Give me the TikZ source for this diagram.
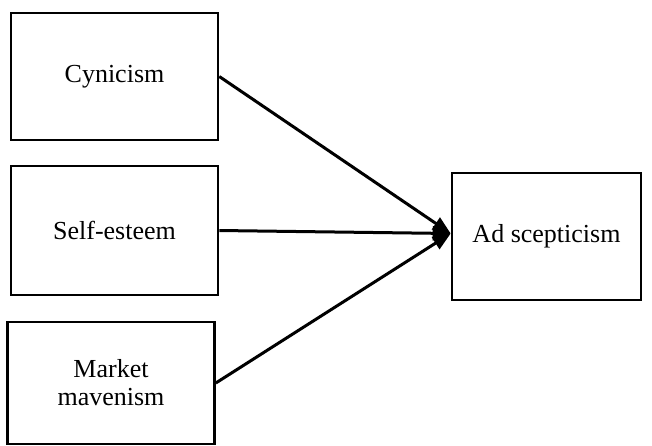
\documentclass[tikz,border=0pt]{standalone}
\usepackage{fontspec}
\setmainfont{Liberation Serif}
\usetikzlibrary{arrows.meta, positioning, calc}

\begin{document}
\begin{tikzpicture}[x=0.5pt, y=-0.5pt,
        box/.style={rectangle, draw=black, fill=white, line width=1.3pt, align=center, font=\fontsize{13}{14}\selectfont, minimum width=103.5pt, minimum height=63.5pt, inner sep=0pt},
        arr/.style={-{Triangle[length=9pt, width=7pt]}, line width=1.5pt, black}
      ]
        \useasboundingbox (0,0) rectangle (652,445);
        \node[box] (cyn) at (114.5,76.5) {Cynicism};
        \node[box, minimum height=64.5pt] (self) at (114.5,230.5) {Self-esteem};
        \node[box, minimum height=61pt] (mav) at (111,383) {Market\\mavenism};
        \node[box, minimum width=94.5pt] (ad) at (546.5,236.5) {Ad scepticism};
        \coordinate (hub) at ($(ad.west)+(0,-3)$);
        \draw[arr] (cyn.east) -- (hub);
        \draw[arr] (self.east) -- (hub);
        \draw[arr] (mav.east) -- (hub);
      \end{tikzpicture}
\end{document}
